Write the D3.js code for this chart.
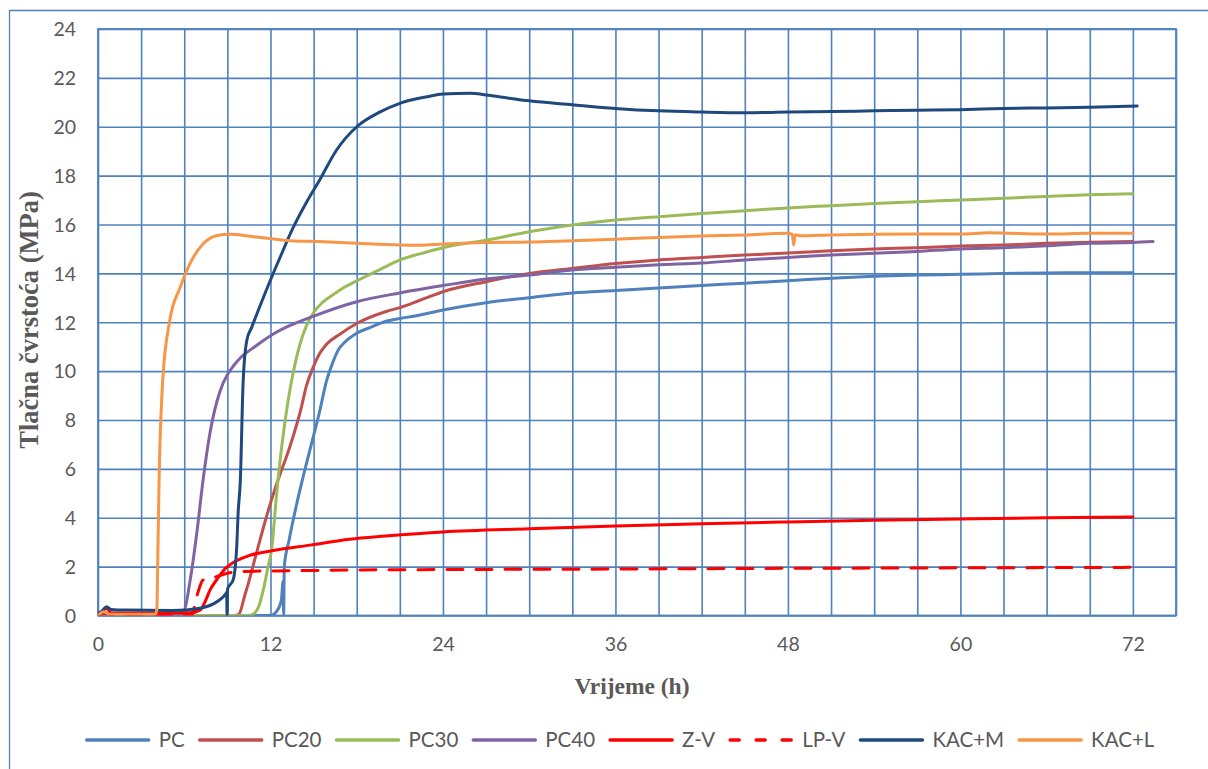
<!DOCTYPE html>
<html><head><meta charset="utf-8">
<script src="https://cdn.jsdelivr.net/npm/d3@7"></script>
<style>
html,body{margin:0;padding:0;background:#fff;}
svg{display:block;}
</style></head>
<body>
<svg id="chart" width="1208" height="769"></svg>
<script>
// ---------- DATA ----------
const seriesNames = ["PC","PC20","PC30","PC40","Z-V","LP-V","KAC+M","KAC+L"];
const seriesColors = ["#4F81BD","#C0504D","#9BBB59","#8064A2","#FF0000","#FF0000","#1F497D","#F79646"];
const xTickLabels = [0,12,24,36,48,60,72];
const yTickLabels = [0,2,4,6,8,10,12,14,16,18,20,22,24];

const pcHours = [0,0.4,0.8,3,6,9,12.0,12.4,12.75,12.88,12.92,12.96,13.3,13.8,14.2,14.8,15.4,15.9,16.3,16.7,17.2,18.0,19.0,20.1,21,22.4,24,27,30,33,36,39,42,45,48,51,54,57,60,63,66,69,72];
const pcMPa   = [0,0.15,0.02,0,0,0,0,0.15,0.6,1.4,0.05,2.0,3.1,4.5,5.5,6.9,8.3,9.6,10.3,10.85,11.2,11.55,11.8,12.05,12.15,12.3,12.5,12.8,13.0,13.2,13.3,13.4,13.5,13.6,13.7,13.8,13.88,13.93,13.96,14.0,14.02,14.03,14.03];

const pc20Hours = [0,0.5,1,9.5,9.8,10.2,10.5,11.0,11.7,12.0,12.5,13.4,14.1,14.5,15.0,15.4,15.9,16.8,18.0,20.1,21,22.4,24,27,30,33,36,39,42,45,48,51,54,57,60,63,66,69,72];
const pc20MPa   = [0,0.1,0,0,0.05,0.8,1.4,2.5,4.0,4.6,5.5,7.0,8.4,9.4,10.2,10.7,11.1,11.5,11.95,12.45,12.6,12.9,13.25,13.66,14.0,14.2,14.4,14.55,14.65,14.75,14.83,14.93,15.0,15.05,15.12,15.16,15.23,15.27,15.3];

const pc30Hours = [0,0.5,1,10.5,10.9,11.2,11.5,11.8,12.1,12.4,12.8,13.2,13.6,14.05,14.5,15.0,15.6,16.4,17.2,18.2,20.1,21,22.4,24,27,30,33,36,39,42,45,48,51,54,57,60,63,66,69,72];
const pc30MPa   = [0,0.05,0,0,0.1,0.4,1.05,1.9,2.8,4.8,7.0,8.7,10.0,11.1,11.85,12.4,12.8,13.15,13.45,13.75,14.3,14.55,14.8,15.05,15.36,15.7,15.98,16.18,16.32,16.45,16.56,16.68,16.77,16.86,16.93,17.0,17.07,17.15,17.22,17.26];

const pc40Hours = [0,0.5,1,5.6,6.0,6.4,6.9,7.3,7.8,8.5,9.0,9.4,10.0,10.8,12,13.1,15,18,21,24,27,30,33,36,39,42,45,48,51,54,57,60,63,66,69,72,73.4];
const pc40MPa   = [0,0.05,0,0,0.2,1.4,3.5,5.5,7.5,9.2,9.85,10.2,10.6,10.95,11.45,11.8,12.25,12.84,13.2,13.5,13.77,13.93,14.14,14.25,14.35,14.42,14.55,14.65,14.75,14.82,14.9,15.0,15.05,15.13,15.23,15.26,15.3];

const zvHours = [0,0.3,0.6,0.9,3,6.4,7.1,7.4,7.8,8.3,8.9,9.5,10.5,12.4,14.75,17.5,20,24,30,36,42,48,54,60,66,72];
const zvMPa   = [0.1,0.15,0.3,0.1,0.1,0.11,0.22,0.5,1.05,1.5,1.95,2.2,2.45,2.68,2.88,3.12,3.25,3.42,3.55,3.66,3.75,3.83,3.9,3.95,4.0,4.03];

const lpvHours = [0,0.5,1,6.5,6.9,7.3,8.3,8.7,9.9,13.4,17.5,24,36,48,60,72];
const lpvMPa   = [0,0.1,0,0,0.84,1.45,1.6,1.68,1.8,1.83,1.86,1.88,1.9,1.93,1.95,1.97];

const kacmHours = [0,0.3,0.6,0.9,2,5.2,7.1,8.3,8.9,8.95,8.98,9.02,9.4,9.65,9.75,9.9,10.1,10.35,10.7,11.7,12.7,13.6,14.5,15.4,16.6,18,19.6,21,22.9,24,25.9,27,28.5,30,33,36,39,42,45,48,51,54,57,60,63,66,69,72.3];
const kacmMPa   = [0.05,0.2,0.36,0.25,0.22,0.2,0.3,0.57,0.9,0.95,0.0,1.1,1.45,2.8,4.2,5.5,9.6,11.25,11.8,13.3,14.7,15.9,16.9,17.8,19.05,20.0,20.6,20.96,21.23,21.34,21.37,21.3,21.18,21.06,20.9,20.75,20.65,20.6,20.57,20.6,20.62,20.65,20.68,20.7,20.75,20.77,20.8,20.85];

const kaclHours = [0,0.4,0.8,4.0,4.1,4.15,4.25,4.5,5.0,5.7,6.4,7.3,8.3,9.2,10.8,13.1,15.4,18,21,22.4,24,27,30,33,36,39,42,45,47.9,48.3,48.4,48.5,48.9,51,54,57,60,62,66,69,72];
const kaclMPa   = [0,0.15,0.05,0.05,0.3,2.0,5.5,9.6,12.1,13.4,14.4,15.2,15.55,15.6,15.5,15.35,15.3,15.23,15.16,15.15,15.2,15.26,15.28,15.34,15.4,15.47,15.53,15.57,15.64,15.6,15.16,15.58,15.54,15.57,15.6,15.61,15.61,15.66,15.61,15.64,15.64];

const seriesHours = [pcHours,pc20Hours,pc30Hours,pc40Hours,zvHours,lpvHours,kacmHours,kaclHours];
const seriesMPa   = [pcMPa,pc20MPa,pc30MPa,pc40MPa,zvMPa,lpvMPa,kacmMPa,kaclMPa];
const seriesDashed = [false,false,false,false,false,true,false,false];

// ---------- LAYOUT ----------
const svg = d3.select("#chart");
const L = 98, R = 1176, T = 29, B = 615.5;
const gridColor = "#4F81BD";
const textColor = "#595959";
const tickFont = "Lato, 'Open Sans', sans-serif";

const x = d3.scaleLinear().domain([0,75]).range([L,R]);
const y = d3.scaleLinear().domain([0,24]).range([B,T]);

// outer chart border
svg.append("path").attr("d","M9.5,769 V10.5 H1208")
  .attr("fill","none").attr("stroke",gridColor).attr("stroke-width",1.3);

// gridlines
const gGrid = svg.append("g");
gGrid.append("g").attr("transform",`translate(0,${B})`)
  .call(d3.axisBottom(x).tickValues(d3.range(0,76,3)).tickSize(-(B-T)).tickFormat(""))
  .call(g=>g.select(".domain").remove())
  .selectAll("line").attr("stroke",gridColor).attr("stroke-width",1.6);
gGrid.append("g").attr("transform",`translate(${L},0)`)
  .call(d3.axisLeft(y).tickValues(yTickLabels).tickSize(-(R-L)).tickFormat(""))
  .call(g=>g.select(".domain").remove())
  .selectAll("line").attr("stroke",gridColor).attr("stroke-width",1.6);
svg.append("rect").attr("x",L).attr("y",T).attr("width",R-L).attr("height",B-T)
  .attr("fill","none").attr("stroke",gridColor).attr("stroke-width",1.8);

// tick labels
const gx = svg.append("g").attr("transform",`translate(0,${B+29})`)
  .call(d3.axisBottom(x).tickValues(xTickLabels).tickSize(0).tickPadding(0));
gx.select(".domain").remove();
gx.selectAll("text").attr("fill",textColor).attr("font-family",tickFont).attr("font-size","19.5px").attr("dy","0.35em");

const gy = svg.append("g").attr("transform",`translate(${L-22},0)`)
  .call(d3.axisLeft(y).tickValues(yTickLabels).tickSize(0).tickPadding(0));
gy.select(".domain").remove();
gy.selectAll("text").attr("fill",textColor).attr("font-family",tickFont).attr("font-size","19.5px").attr("dy","0.35em");

// axis titles
svg.append("text").attr("x",632).attr("y",694).attr("text-anchor","middle")
  .attr("font-family","'Liberation Serif','Times New Roman',serif").attr("font-weight","bold")
  .attr("font-size","23.5px").attr("fill",textColor).text("Vrijeme (h)");
svg.append("text").attr("transform","translate(38,320) rotate(-90)").attr("text-anchor","middle")
  .attr("font-family","'Liberation Serif','Times New Roman',serif").attr("font-weight","bold")
  .attr("font-size","26.5px").attr("fill",textColor).text("Tlačna čvrstoća (MPa)");

// clip
svg.append("clipPath").attr("id","plotclip").append("rect")
  .attr("x",L).attr("y",T-5).attr("width",R-L).attr("height",B-T+5);

const line = d3.line().x(d=>x(d[0])).y(d=>y(d[1])).curve(d3.curveMonotoneX);
const gLines = svg.append("g").attr("clip-path","url(#plotclip)");
seriesNames.forEach((name,i)=>{
  const pts = seriesHours[i].map((h,j)=>[h,seriesMPa[i][j]]);
  gLines.append("path").datum(pts).attr("d",line)
    .attr("fill","none").attr("stroke",seriesColors[i]).attr("stroke-width",3)
    .attr("stroke-linejoin","round").attr("stroke-linecap","round")
    .attr("stroke-dasharray",seriesDashed[i] ? "16,13" : null);
});

// legend
const legY = 740, lineLen = 68, txtGap = 7, itemGap = 12;
const gLeg = svg.append("g");
const items = [];
seriesNames.forEach((name,i)=>{
  const g = gLeg.append("g");
  g.append("line").attr("x1",3).attr("x2",lineLen-3).attr("y1",legY).attr("y2",legY)
    .attr("stroke",seriesColors[i]).attr("stroke-width",3.5).attr("stroke-linecap","round")
    .attr("stroke-dasharray",seriesDashed[i] ? "9,17" : null);
  const t = g.append("text").attr("x",lineLen+txtGap).attr("y",legY).attr("dy","0.35em")
    .attr("font-family",tickFont).attr("font-size","20.5px").attr("fill",textColor).text(name);
  const w = lineLen + txtGap + t.node().getComputedTextLength();
  items.push({g,w});
});
const total = d3.sum(items,d=>d.w) + itemGap*(items.length-1);
let pos = 619 - total/2;
items.forEach(it=>{ it.g.attr("transform",`translate(${pos},0)`); pos += it.w + itemGap; });
</script>
</body></html>
